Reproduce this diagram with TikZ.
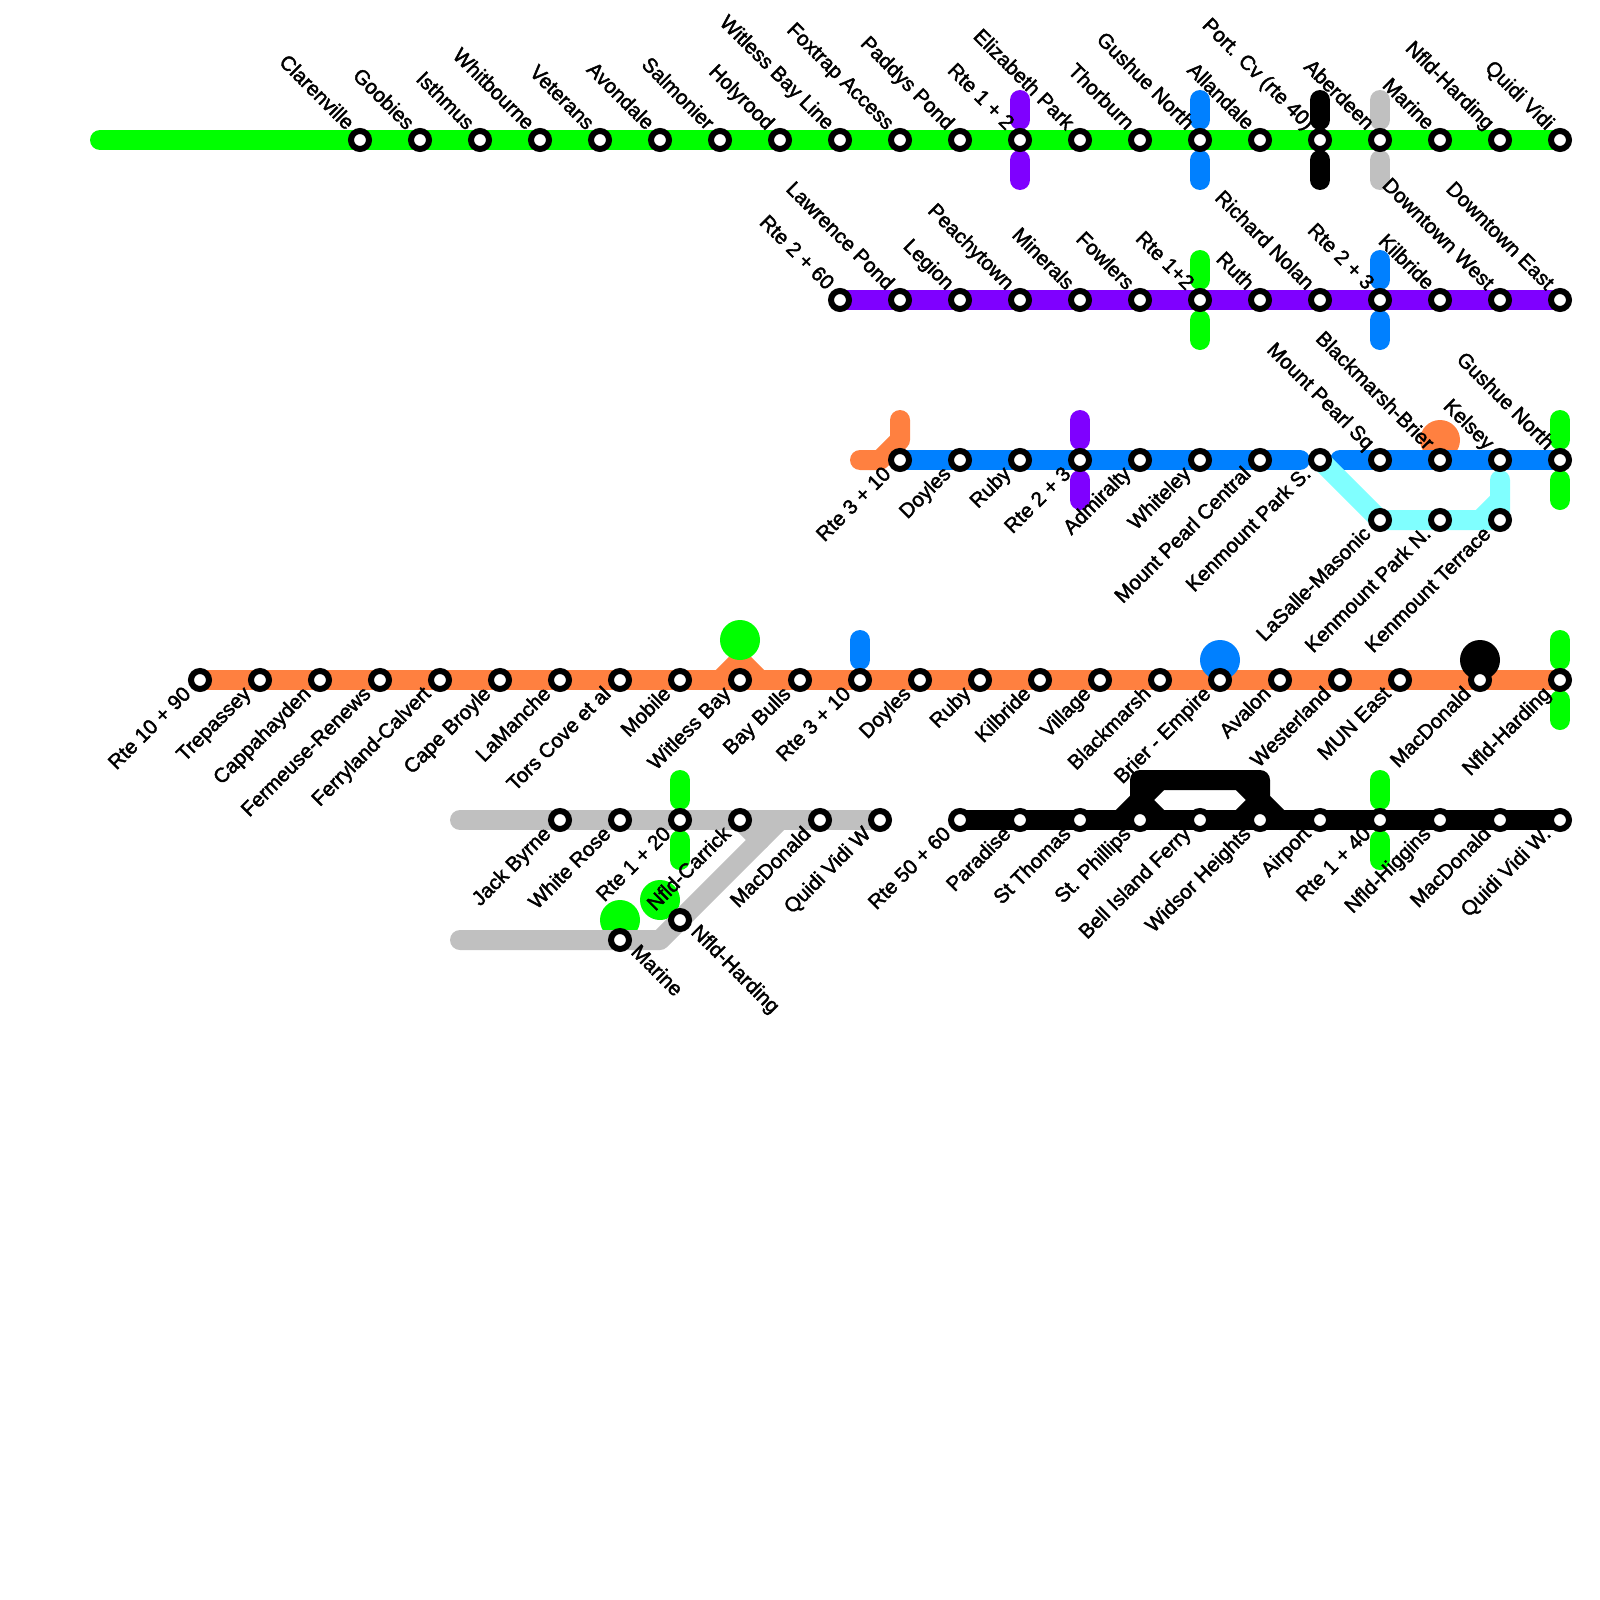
\documentclass[tikz,border=0pt]{standalone}
\usepackage{fontspec}
\setmainfont{Liberation Sans}[FakeBold=2]
\usetikzlibrary{backgrounds}
\definecolor{linegreen}{HTML}{00FF00}
\definecolor{lineviolet}{HTML}{7F00FF}
\definecolor{lineblue}{HTML}{0080FF}
\definecolor{lineorange}{HTML}{FF8040}
\definecolor{linecyan}{HTML}{80FFFF}
\definecolor{linegray}{HTML}{C0C0C0}
\begin{document}
\begin{tikzpicture}[x=1pt,y=-1pt,
    stop/.style={circle, draw=black, fill=white, line width=6pt, inner sep=0pt, minimum size=18pt},
    blob/.style={circle, inner sep=0pt, minimum size=40pt},
    route/.style={line width=20pt, line cap=round, line join=round},
    upname/.style={font=\fontsize{20.5}{25}\selectfont, inner sep=0pt, xshift=-14pt, yshift=9pt, rotate=-45, anchor=base east},
    downname/.style={font=\fontsize{20.5}{25}\selectfont, inner sep=0pt, xshift=-8pt, yshift=-15pt, rotate=45, anchor=base east},
    rightname/.style={font=\fontsize{20.5}{25}\selectfont, inner sep=0pt, xshift=10pt, yshift=-13pt, rotate=-45, anchor=base west}]
    \useasboundingbox (0,0) rectangle (1600,1600);

    % Green line
    \node[stop] (g1) at (360,140) {}; \node[upname] (g1t) at (g1) {Clarenville};
    \node[stop] (g2) at (420,140) {}; \node[upname] (g2t) at (g2) {Goobies};
    \node[stop] (g3) at (480,140) {}; \node[upname] (g3t) at (g3) {Isthmus};
    \node[stop] (g4) at (540,140) {}; \node[upname] (g4t) at (g4) {Whitbourne};
    \node[stop] (g5) at (600,140) {}; \node[upname] (g5t) at (g5) {Veterans};
    \node[stop] (g6) at (660,140) {}; \node[upname] (g6t) at (g6) {Avondale};
    \node[stop] (g7) at (720,140) {}; \node[upname] (g7t) at (g7) {Salmonier};
    \node[stop] (g8) at (780,140) {}; \node[upname] (g8t) at (g8) {Holyrood};
    \node[stop] (g9) at (840,140) {}; \node[upname] (g9t) at (g9) {Witless Bay Line};
    \node[stop] (g10) at (900,140) {}; \node[upname] (g10t) at (g10) {Foxtrap Access};
    \node[stop] (g11) at (960,140) {}; \node[upname] (g11t) at (g11) {Paddys Pond};
    \node[stop] (g12) at (1020,140) {}; \node[upname] (g12t) at (g12) {Rte 1 + 2};
    \node[stop] (g13) at (1080,140) {}; \node[upname] (g13t) at (g13) {Elizabeth Park};
    \node[stop] (g14) at (1140,140) {}; \node[upname] (g14t) at (g14) {Thorburn};
    \node[stop] (g15) at (1200,140) {}; \node[upname] (g15t) at (g15) {Gushue North};
    \node[stop] (g16) at (1260,140) {}; \node[upname] (g16t) at (g16) {Allandale};
    \node[stop] (g17) at (1320,140) {}; \node[upname] (g17t) at (g17) {Port. Cv (rte 40)};
    \node[stop] (g18) at (1380,140) {}; \node[upname] (g18t) at (g18) {Aberdeen};
    \node[stop] (g19) at (1440,140) {}; \node[upname] (g19t) at (g19) {Marine};
    \node[stop] (g20) at (1500,140) {}; \node[upname] (g20t) at (g20) {Nfld-Harding};
    \node[stop] (g21) at (1560,140) {}; \node[upname] (g21t) at (g21) {Quidi Vidi};

    % Violet line
    \node[stop] (v1) at (840,300) {}; \node[upname] (v1t) at (v1) {Rte 2 + 60};
    \node[stop] (v2) at (900,300) {}; \node[upname] (v2t) at (v2) {Lawrence Pond};
    \node[stop] (v3) at (960,300) {}; \node[upname] (v3t) at (v3) {Legion};
    \node[stop] (v4) at (1020,300) {}; \node[upname] (v4t) at (v4) {Peachytown};
    \node[stop] (v5) at (1080,300) {}; \node[upname] (v5t) at (v5) {Minerals};
    \node[stop] (v6) at (1140,300) {}; \node[upname] (v6t) at (v6) {Fowlers};
    \node[stop] (v7) at (1200,300) {}; \node[upname] (v7t) at (v7) {Rte 1+2};
    \node[stop] (v8) at (1260,300) {}; \node[upname] (v8t) at (v8) {Ruth};
    \node[stop] (v9) at (1320,300) {}; \node[upname] (v9t) at (v9) {Richard Nolan};
    \node[stop] (v10) at (1380,300) {}; \node[upname] (v10t) at (v10) {Rte 2 + 3};
    \node[stop] (v11) at (1440,300) {}; \node[upname] (v11t) at (v11) {Kilbride};
    \node[stop] (v12) at (1500,300) {}; \node[upname] (v12t) at (v12) {Downtown West};
    \node[stop] (v13) at (1560,300) {}; \node[upname] (v13t) at (v13) {Downtown East};

    % Blue line
    \node[stop] (b1) at (900,460) {}; \node[downname] (b1t) at (b1) {Rte 3 + 10};
    \node[stop] (b2) at (960,460) {}; \node[downname] (b2t) at (b2) {Doyles};
    \node[stop] (b3) at (1020,460) {}; \node[downname] (b3t) at (b3) {Ruby};
    \node[stop] (b4) at (1080,460) {}; \node[downname] (b4t) at (b4) {Rte 2 + 3};
    \node[stop] (b5) at (1140,460) {}; \node[downname] (b5t) at (b5) {Admiralty};
    \node[stop] (b6) at (1200,460) {}; \node[downname] (b6t) at (b6) {Whiteley};
    \node[stop] (b7) at (1260,460) {}; \node[downname] (b7t) at (b7) {Mount Pearl Central};
    \node[stop] (b8) at (1320,460) {}; \node[downname] (b8t) at (b8) {Kenmount Park S.};
    \node[stop] (b9) at (1380,460) {}; \node[upname] (b9t) at (b9) {Mount Pearl Sq};
    \node[stop] (b10) at (1440,460) {}; \node[upname] (b10t) at (b10) {Blackmarsh-Brier};
    \node[stop] (b11) at (1500,460) {}; \node[upname] (b11t) at (b11) {Kelsey};
    \node[stop] (b12) at (1560,460) {}; \node[upname] (b12t) at (b12) {Gushue North};

    % Cyan branch
    \node[stop] (c1) at (1380,520) {}; \node[downname] (c1t) at (c1) {LaSalle-Masonic};
    \node[stop] (c2) at (1440,520) {}; \node[downname] (c2t) at (c2) {Kenmount Park N.};
    \node[stop] (c3) at (1500,520) {}; \node[downname] (c3t) at (c3) {Kenmount Terrace};

    % Orange line
    \node[stop] (o1) at (200,680) {}; \node[downname] (o1t) at (o1) {Rte 10 + 90};
    \node[stop] (o2) at (260,680) {}; \node[downname] (o2t) at (o2) {Trepassey};
    \node[stop] (o3) at (320,680) {}; \node[downname] (o3t) at (o3) {Cappahayden};
    \node[stop] (o4) at (380,680) {}; \node[downname] (o4t) at (o4) {Fermeuse-Renews};
    \node[stop] (o5) at (440,680) {}; \node[downname] (o5t) at (o5) {Ferryland-Calvert};
    \node[stop] (o6) at (500,680) {}; \node[downname] (o6t) at (o6) {Cape Broyle};
    \node[stop] (o7) at (560,680) {}; \node[downname] (o7t) at (o7) {LaManche};
    \node[stop] (o8) at (620,680) {}; \node[downname] (o8t) at (o8) {Tors Cove et al};
    \node[stop] (o9) at (680,680) {}; \node[downname] (o9t) at (o9) {Mobile};
    \node[stop] (o10) at (740,680) {}; \node[downname] (o10t) at (o10) {Witless Bay};
    \node[stop] (o11) at (800,680) {}; \node[downname] (o11t) at (o11) {Bay Bulls};
    \node[stop] (o12) at (860,680) {}; \node[downname] (o12t) at (o12) {Rte 3 + 10};
    \node[stop] (o13) at (920,680) {}; \node[downname] (o13t) at (o13) {Doyles};
    \node[stop] (o14) at (980,680) {}; \node[downname] (o14t) at (o14) {Ruby};
    \node[stop] (o15) at (1040,680) {}; \node[downname] (o15t) at (o15) {Kilbride};
    \node[stop] (o16) at (1100,680) {}; \node[downname] (o16t) at (o16) {Village};
    \node[stop] (o17) at (1160,680) {}; \node[downname] (o17t) at (o17) {Blackmarsh};
    \node[stop] (o18) at (1220,680) {}; \node[downname] (o18t) at (o18) {Brier - Empire};
    \node[stop] (o19) at (1280,680) {}; \node[downname] (o19t) at (o19) {Avalon};
    \node[stop] (o20) at (1340,680) {}; \node[downname] (o20t) at (o20) {Westerland};
    \node[stop] (o21) at (1400,680) {}; \node[downname] (o21t) at (o21) {MUN East};
    \node[stop] (o22) at (1480,680) {}; \node[downname] (o22t) at (o22) {MacDonald};
    \node[stop] (o23) at (1560,680) {}; \node[downname] (o23t) at (o23) {Nfld-Harding};

    % Gray line
    \node[stop] (a1) at (560,820) {}; \node[downname] (a1t) at (a1) {Jack Byrne};
    \node[stop] (a2) at (620,820) {}; \node[downname] (a2t) at (a2) {White Rose};
    \node[stop] (a3) at (680,820) {}; \node[downname] (a3t) at (a3) {Rte 1 + 20};
    \node[stop] (a4) at (740,820) {}; \node[downname] (a4t) at (a4) {Nfld-Carrick};
    \node[stop] (a5) at (820,820) {}; \node[downname] (a5t) at (a5) {MacDonald};
    \node[stop] (a6) at (880,820) {}; \node[downname] (a6t) at (a6) {Quidi Vidi W};
    \node[stop] (a7) at (620,940) {}; \node[rightname] (a7t) at (a7) {Marine};
    \node[stop] (a8) at (680,920) {}; \node[rightname] (a8t) at (a8) {Nfld-Harding};

    % Black line
    \node[stop] (k1) at (960,820) {}; \node[downname] (k1t) at (k1) {Rte 50 + 60};
    \node[stop] (k2) at (1020,820) {}; \node[downname] (k2t) at (k2) {Paradise};
    \node[stop] (k3) at (1080,820) {}; \node[downname] (k3t) at (k3) {St Thomas};
    \node[stop] (k4) at (1140,820) {}; \node[downname] (k4t) at (k4) {St. Phillips};
    \node[stop] (k5) at (1200,820) {}; \node[downname] (k5t) at (k5) {Bell Island Ferry};
    \node[stop] (k6) at (1260,820) {}; \node[downname] (k6t) at (k6) {Widsor Heights};
    \node[stop] (k7) at (1320,820) {}; \node[downname] (k7t) at (k7) {Airport};
    \node[stop] (k8) at (1380,820) {}; \node[downname] (k8t) at (k8) {Rte 1 + 40};
    \node[stop] (k9) at (1440,820) {}; \node[downname] (k9t) at (k9) {Nfld-Higgins};
    \node[stop] (k10) at (1500,820) {}; \node[downname] (k10t) at (k10) {MacDonald};
    \node[stop] (k11) at (1560,820) {}; \node[downname] (k11t) at (k11) {Quidi Vidi W.};

    % Free ends and bends
    \coordinate (gs) at (100,140);
    \coordinate (os1) at (860,460);
    \coordinate (os2) at (880,460);
    \coordinate (os3) at (900,440);
    \coordinate (os4) at (900,420);
    \coordinate (bl) at (1300,460);
    \coordinate (br) at (1340,460);
    \coordinate (cb1) at (1480,520);
    \coordinate (cb2) at (1500,500);
    \coordinate (cb3) at (1500,480);
    \coordinate (ol) at (720,680);
    \coordinate (ot) at (740,660);
    \coordinate (or) at (760,680);
    \coordinate (as1) at (460,820);
    \coordinate (as2) at (460,940);
    \coordinate (ab1) at (660,940);
    \coordinate (ab2) at (780,820);
    \coordinate (ab3) at (760,840);
    \coordinate (kl1) at (1120,820);
    \coordinate (kl2) at (1140,800);
    \coordinate (kl3) at (1140,780);
    \coordinate (kl4) at (1160,780);
    \coordinate (kl5) at (1160,820);
    \coordinate (kr1) at (1280,820);
    \coordinate (kr2) at (1260,800);
    \coordinate (kr3) at (1260,780);
    \coordinate (kr4) at (1240,780);
    \coordinate (kr5) at (1240,820);

    \begin{scope}[on background layer]
    % Lines under the blobs
    \draw[route, lineorange] (o1.center) -- (o23.center);
    \draw[route, lineorange] (ol) -- (ot) -- (or);
    \draw[route, lineorange] (os1) -- (os2) -- (os3) -- (os4);

    % Blobs
    \node[blob, fill=linegreen] (d1) at (740,640) {};
    \node[blob, fill=linegreen] (d2) at (620,920) {};
    \node[blob, fill=linegreen] (d3) at (660,900) {};
    \node[blob, fill=lineblue] (d4) at (1220,660) {};
    \node[blob, fill=black] (d5) at (1480,660) {};
    \node[blob, fill=lineorange] (d6) at (1440,440) {};

    % Lines over the blobs
    \draw[route, linegreen] (gs) -- (g21.center);
    \draw[route, lineviolet] (v1.center) -- (v13.center);
    \draw[route, lineblue] (b1.center) -- (bl);
    \draw[route, lineblue] (br) -- (b12.center);
    \draw[route, linecyan] (b8.center) -- (c1.center) -- (c3.center) -- (cb3);
    \draw[route, linecyan] (cb1) -- (cb2);
    \draw[route, linegray] (as1) -- (a6.center);
    \draw[route, linegray] (as2) -- (ab1) -- (ab2);
    \draw[route, linegray] (a4.center) -- (ab3);
    \draw[route, black] (k1.center) -- (k11.center);
    \draw[route, black] (kl1) -- (kl2) -- (kl3) -- (kr3) -- (kr2) -- (kr1);
    \draw[route, black] (kl2) -- (kl4);
    \draw[route, black] (kl2) -- (kl5);
    \draw[route, black] (kr2) -- (kr4);
    \draw[route, black] (kr2) -- (kr5);

    % Crossing stubs
    \draw[route, lineviolet] ([yshift=40]g12.center) -- ([yshift=20]g12.center);
    \draw[route, lineviolet] ([yshift=-40]g12.center) -- ([yshift=-20]g12.center);
    \draw[route, lineblue] ([yshift=40]g15.center) -- ([yshift=20]g15.center);
    \draw[route, lineblue] ([yshift=-40]g15.center) -- ([yshift=-20]g15.center);
    \draw[route, black] ([yshift=40]g17.center) -- ([yshift=20]g17.center);
    \draw[route, black] ([yshift=-40]g17.center) -- ([yshift=-20]g17.center);
    \draw[route, linegray] ([yshift=40]g18.center) -- ([yshift=20]g18.center);
    \draw[route, linegray] ([yshift=-40]g18.center) -- ([yshift=-20]g18.center);
    \draw[route, linegreen] ([yshift=40]v7.center) -- ([yshift=20]v7.center);
    \draw[route, linegreen] ([yshift=-40]v7.center) -- ([yshift=-20]v7.center);
    \draw[route, lineblue] ([yshift=40]v10.center) -- ([yshift=20]v10.center);
    \draw[route, lineblue] ([yshift=-40]v10.center) -- ([yshift=-20]v10.center);
    \draw[route, lineviolet] ([yshift=40]b4.center) -- ([yshift=20]b4.center);
    \draw[route, lineviolet] ([yshift=-40]b4.center) -- ([yshift=-20]b4.center);
    \draw[route, linegreen] ([yshift=40]b12.center) -- ([yshift=20]b12.center);
    \draw[route, linegreen] ([yshift=-40]b12.center) -- ([yshift=-20]b12.center);
    \draw[route, lineblue] ([yshift=40]o12.center) -- ([yshift=20]o12.center);
    \draw[route, linegreen] ([yshift=40]o23.center) -- ([yshift=20]o23.center);
    \draw[route, linegreen] ([yshift=-40]o23.center) -- ([yshift=-20]o23.center);
    \draw[route, linegreen] ([yshift=40]a3.center) -- ([yshift=20]a3.center);
    \draw[route, linegreen] ([yshift=-40]a3.center) -- ([yshift=-20]a3.center);
    \draw[route, linegreen] ([yshift=40]k8.center) -- ([yshift=20]k8.center);
    \draw[route, linegreen] ([yshift=-40]k8.center) -- ([yshift=-20]k8.center);
    \end{scope}
\end{tikzpicture}
\end{document}
